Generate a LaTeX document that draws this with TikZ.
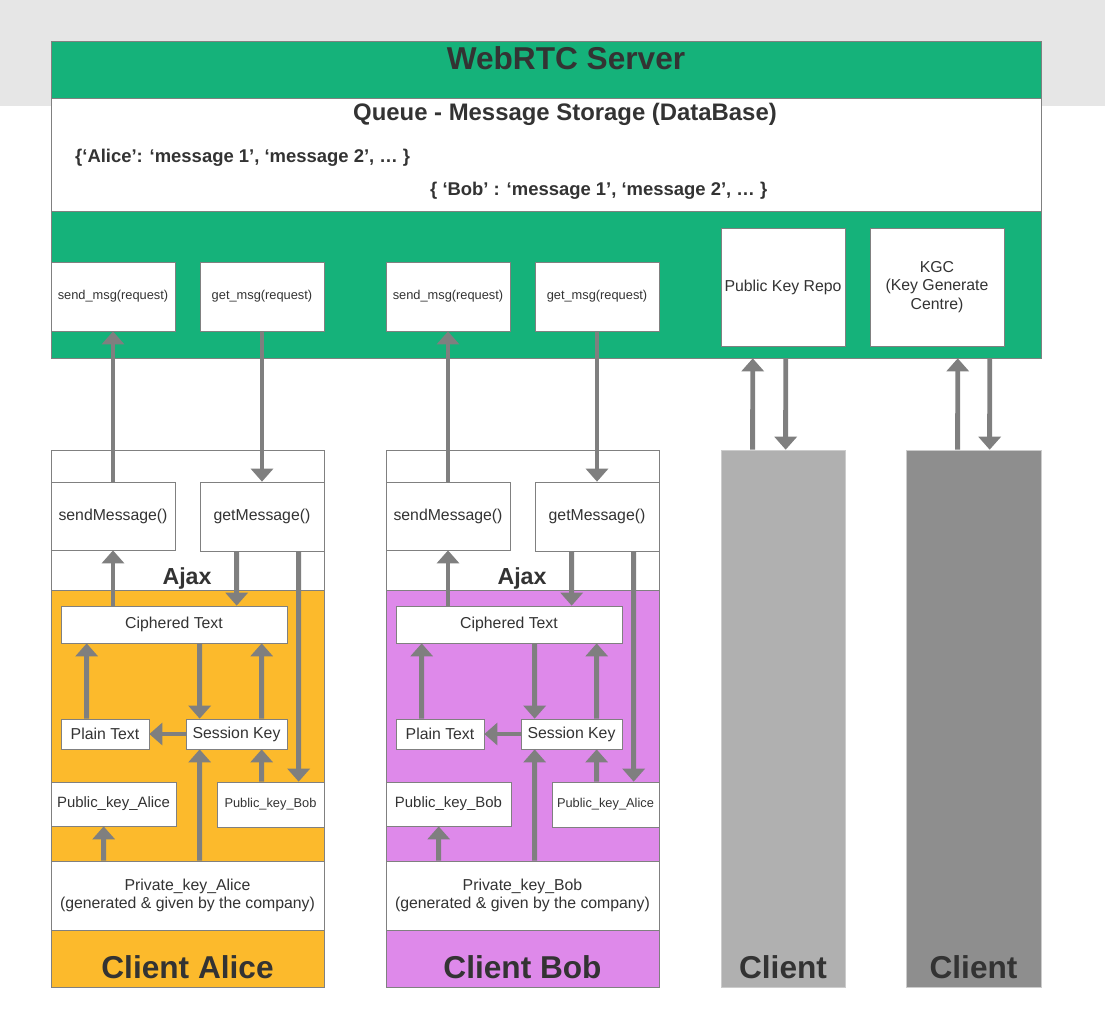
\documentclass[tikz,border=0pt]{standalone}
\usepackage{fontspec}
\setmainfont{Liberation Sans}
\usepackage{tikz}
\usetikzlibrary{positioning}
\usetikzlibrary{arrows.meta}
\usetikzlibrary{calc}

\definecolor{srvgreen}{HTML}{15B27A}
\definecolor{alicefill}{HTML}{FCBA2C}
\definecolor{bobfill}{HTML}{DE89EA}
\definecolor{lightclient}{HTML}{B0B0B0}
\definecolor{darkclient}{HTML}{8E8E8E}
\definecolor{topband}{HTML}{E6E6E6}
\definecolor{boxline}{HTML}{808080}
\definecolor{flowgray}{HTML}{7F7F7F}
\definecolor{txt}{HTML}{333333}

\begin{document}
\begin{tikzpicture}[x=0.02cm, y=-0.02cm,
  box/.style={draw=boxline, fill=white, inner sep=0pt, text=txt, align=center, font=\fontsize{9}{10}\selectfont},
  smalltxt/.style={font=\fontsize{7.3}{8.5}\selectfont},
  midtxt/.style={font=\fontsize{8.5}{10}\selectfont},
  band/.style={draw=boxline, inner sep=0pt},
  heading/.style={text=txt, anchor=base, font=\bfseries\fontsize{18}{21}\selectfont},
  subheading/.style={text=txt, anchor=base, font=\bfseries\fontsize{13.6}{16}\selectfont},
  dict/.style={text=txt, anchor=base west, font=\bfseries\fontsize{10.5}{12}\selectfont},
  flow/.style={draw=flowgray, line width=2.8pt, -{Triangle[width=0.44cm,length=0.26cm]}}]

  \useasboundingbox (0,0) rectangle (1105,1029);
  \fill[topband] (0,0) rectangle (1105,106);

  % server
  \node[band, fill=srvgreen, minimum width=19.8cm, minimum height=6.34cm] (srv) at (546,199.5) {};
  \node[band, fill=white, minimum width=19.8cm, minimum height=2.26cm] (queue) at (546,154.5) {};
  \node[heading] (srvtitle) at (566,69) {WebRTC Server};
  \node[subheading] (queuetitle) at (565,120) {Queue - Message Storage (DataBase)};
  \node[dict] (dictA) at (69,162) {\{‘Alice’: ‘message 1’, ‘message 2’, … \}};
  \node[dict] (dictB) at (424,195) {\{ ‘Bob’ : ‘message 1’, ‘message 2’, … \}};

  \node[box, smalltxt, minimum width=2.48cm, minimum height=1.38cm] (sendA) at (113,296.5) {send\_msg(request)};
  \node[box, smalltxt, minimum width=2.48cm, minimum height=1.38cm] (getA) at (262,296.5) {get\_msg(request)};
  \node[box, smalltxt, minimum width=2.48cm, minimum height=1.38cm] (sendB) at (448,296.5) {send\_msg(request)};
  \node[box, smalltxt, minimum width=2.48cm, minimum height=1.38cm] (getB) at (597,296.5) {get\_msg(request)};
  \node[box, minimum width=2.48cm, minimum height=2.36cm] (pkrepo) at (783,287) {Public Key Repo};
  \node[box, font=\fontsize{9}{10.4}\selectfont, minimum width=2.68cm, minimum height=2.36cm] (kgc) at (937,287) {KGC\\(Key Generate\\Centre)};

  % client alice
  \node[band, fill=alicefill, minimum width=5.46cm, minimum height=10.74cm] (colA) at (187.5,718.5) {};
  \node[band, fill=white, minimum width=5.46cm, minimum height=2.8cm] (ajaxA) at (187.5,520) {};
  \node[box, minimum width=2.48cm, minimum height=1.36cm] (sendMsgA) at (113,516) {sendMessage()};
  \node[box, minimum width=2.48cm, minimum height=1.38cm] (getMsgA) at (262,516.5) {getMessage()};
  \node[subheading, font=\bfseries\fontsize{13.2}{15}\selectfont] (ajaxlblA) at (187,584) {Ajax};
  \node[box, minimum width=4.52cm, minimum height=0.74cm] (cipherA) at (174,624.5) {Ciphered Text};
  \node[box, minimum width=1.76cm, minimum height=0.6cm] (plainA) at (105,734) {Plain Text};
  \node[box, minimum width=2.02cm, minimum height=0.6cm] (sessA) at (236.5,734) {Session Key};
  \node[box, midtxt, minimum width=2.5cm, minimum height=0.88cm] (pubAliceA) at (113.5,804) {Public\_key\_Alice};
  \node[box, smalltxt, minimum width=2.14cm, minimum height=0.9cm] (pubBobA) at (270.5,804.5) {Public\_key\_Bob};
  \node[box, minimum width=5.46cm, minimum height=1.38cm] (privA) at (187.5,895.5) {Private\_key\_Alice\\(generated \& given by the company)};
  \node[heading] (nameA) at (187.5,978) {Client Alice};

  % client bob
  \node[band, fill=bobfill, minimum width=5.46cm, minimum height=10.74cm] (colB) at (522.5,718.5) {};
  \node[band, fill=white, minimum width=5.46cm, minimum height=2.8cm] (ajaxB) at (522.5,520) {};
  \node[box, minimum width=2.48cm, minimum height=1.36cm] (sendMsgB) at (448,516) {sendMessage()};
  \node[box, minimum width=2.48cm, minimum height=1.38cm] (getMsgB) at (597,516.5) {getMessage()};
  \node[subheading, font=\bfseries\fontsize{13.2}{15}\selectfont] (ajaxlblB) at (522,584) {Ajax};
  \node[box, minimum width=4.52cm, minimum height=0.74cm] (cipherB) at (509,624.5) {Ciphered Text};
  \node[box, minimum width=1.76cm, minimum height=0.6cm] (plainB) at (440,734) {Plain Text};
  \node[box, minimum width=2.02cm, minimum height=0.6cm] (sessB) at (571.5,734) {Session Key};
  \node[box, midtxt, minimum width=2.5cm, minimum height=0.88cm] (pubBobB) at (448.5,804) {Public\_key\_Bob};
  \node[box, smalltxt, minimum width=2.14cm, minimum height=0.9cm] (pubAliceB) at (605.5,804.5) {Public\_key\_Alice};
  \node[box, minimum width=5.46cm, minimum height=1.38cm] (privB) at (522.5,895.5) {Private\_key\_Bob\\(generated \& given by the company)};
  \node[heading] (nameB) at (522.5,978) {Client Bob};

  % other clients
  \node[draw=black!20, fill=lightclient, minimum width=2.48cm, minimum height=10.74cm, inner sep=0pt] (cl3) at (783,718.5) {};
  \node[draw=black!20, fill=darkclient, minimum width=2.7cm, minimum height=10.74cm, inner sep=0pt] (cl4) at (973.5,718.5) {};
  \node[heading] (name3) at (783,978) {Client};
  \node[heading] (name4) at (973.5,978) {Client};

  % alice flows
  \draw[flow] (sendMsgA.north) -- (sendA.south);
  \draw[flow] (getA.south) -- (getMsgA.north);
  \draw[flow] (cipherA.north -| sendMsgA.south) -- (sendMsgA.south);
  \draw[flow] ($(getMsgA.south west)+(37,0)$) -- ($(cipherA.north west)+(176,0)$);
  \draw[flow] ($(getMsgA.south west)+(99,0)$) -- ($(pubBobA.north west)+(82,0)$);
  \draw[flow] ($(plainA.north west)+(26,0)$) -- ($(cipherA.south west)+(26,0)$);
  \draw[flow] ($(cipherA.south west)+(139,0)$) -- ($(sessA.north west)+(14,0)$);
  \draw[flow] ($(sessA.north west)+(76,0)$) -- ($(cipherA.south west)+(201,0)$);
  \draw[flow] (sessA.west) -- (plainA.east);
  \draw[flow] ($(pubBobA.north west)+(45,0)$) -- ($(sessA.south west)+(76,0)$);
  \draw[flow] ($(privA.north west)+(149,0)$) -- ($(sessA.south west)+(14,0)$);
  \draw[flow] ($(privA.north west)+(53,0)$) -- ($(pubAliceA.south west)+(53,0)$);

  % bob flows
  \draw[flow] (sendMsgB.north) -- (sendB.south);
  \draw[flow] (getB.south) -- (getMsgB.north);
  \draw[flow] (cipherB.north -| sendMsgB.south) -- (sendMsgB.south);
  \draw[flow] ($(getMsgB.south west)+(37,0)$) -- ($(cipherB.north west)+(176,0)$);
  \draw[flow] ($(getMsgB.south west)+(99,0)$) -- ($(pubAliceB.north west)+(82,0)$);
  \draw[flow] ($(plainB.north west)+(26,0)$) -- ($(cipherB.south west)+(26,0)$);
  \draw[flow] ($(cipherB.south west)+(139,0)$) -- ($(sessB.north west)+(14,0)$);
  \draw[flow] ($(sessB.north west)+(76,0)$) -- ($(cipherB.south west)+(201,0)$);
  \draw[flow] (sessB.west) -- (plainB.east);
  \draw[flow] ($(pubAliceB.north west)+(45,0)$) -- ($(sessB.south west)+(76,0)$);
  \draw[flow] ($(privB.north west)+(149,0)$) -- ($(sessB.south west)+(14,0)$);
  \draw[flow] ($(privB.north west)+(53,0)$) -- ($(pubBobB.south west)+(53,0)$);

  % key server flows
  \draw[flow] ($(cl3.north west)+(32,0)$) -- ($(srv.south west)+(702,0)$);
  \draw[flow] ($(srv.south west)+(735,0)$) -- ($(cl3.north west)+(65,0)$);
  \draw[flow] ($(cl4.north west)+(52,0)$) -- ($(srv.south west)+(907,0)$);
  \draw[flow] ($(srv.south west)+(939,0)$) -- ($(cl4.north west)+(84,0)$);
\end{tikzpicture}
\end{document}
